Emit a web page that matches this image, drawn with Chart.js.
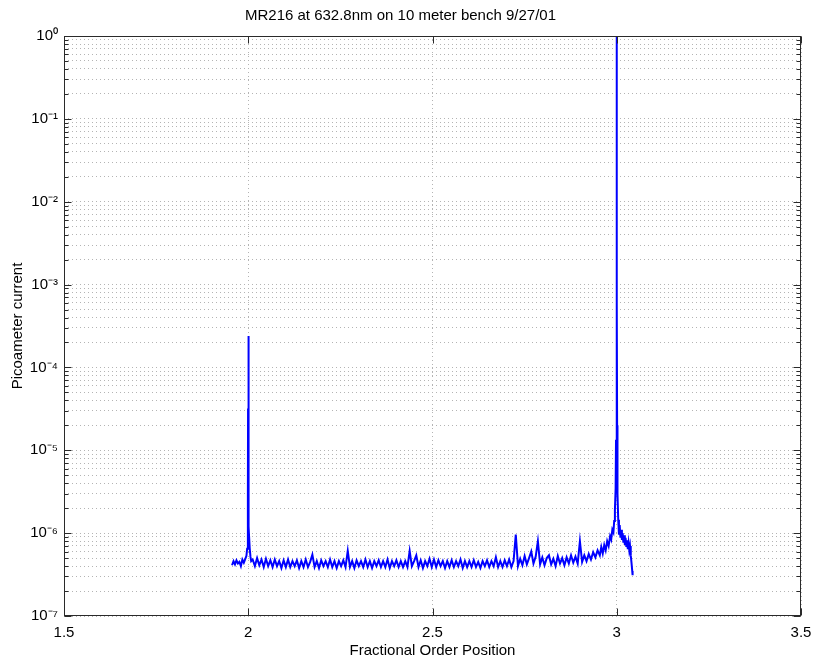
<!DOCTYPE html>
<html>
<head>
<meta charset="utf-8">
<script src="https://cdn.jsdelivr.net/npm/chart.js@4.4.0/dist/chart.umd.min.js"></script>
<style>
  html, body { margin: 0; padding: 0; background: #fff; }
  #wrap { width: 817px; height: 662px; }
</style>
</head>
<body>
<div id="wrap"><canvas id="chart" width="817" height="662"></canvas></div>
<script>
// --- Data (x = fractional order, y = picoameter current) ---
var xTicks = [1.5, 2, 2.5, 3, 3.5];
var yDecades = [1e-7, 1e-6, 1e-5, 1e-4, 1e-3, 1e-2, 1e-1, 1e0];
var yMinorSteps = [2, 3, 4, 5, 6, 7, 8, 9];

// left shoulder + order 2 peak
var xLeft = [1.956, 1.960, 1.964, 1.968, 1.972, 1.976, 1.980, 1.984, 1.988, 1.992, 1.995,
  1.997, 1.999, 1.9995, 2.000, 2.0005, 2.001, 2.002, 2.004, 2.006, 2.008];
var yLeft = [4.1e-7, 4.6e-7, 4.2e-7, 4.7e-7, 4.3e-7, 4.5e-7, 4.0e-7, 4.8e-7, 4.4e-7, 4.9e-7, 5.3e-7,
  6.5e-7, 3.0e-6, 3.2e-5, 2.4e-4, 3.0e-5, 4.0e-6, 1.2e-6, 6.5e-7, 5.2e-7, 4.6e-7];

// noise floor between the orders
var xFloor = [2.012, 2.018, 2.024, 2.030, 2.036, 2.042, 2.048, 2.054, 2.060, 2.066,
  2.072, 2.078, 2.084, 2.090, 2.096, 2.102, 2.108, 2.114, 2.120, 2.126,
  2.132, 2.138, 2.144, 2.150, 2.156, 2.162, 2.168, 2.174, 2.180, 2.186,
  2.192, 2.198, 2.204, 2.210, 2.216, 2.222, 2.228, 2.234, 2.240, 2.246,
  2.252, 2.258, 2.264, 2.270, 2.276, 2.282, 2.288, 2.294, 2.300, 2.306,
  2.312, 2.318, 2.324, 2.330, 2.336, 2.342, 2.348, 2.354, 2.360, 2.366,
  2.372, 2.378, 2.384, 2.390, 2.396, 2.402, 2.408, 2.414, 2.420, 2.426,
  2.432, 2.438, 2.444, 2.450, 2.456, 2.462, 2.468, 2.474, 2.480, 2.486,
  2.492, 2.498, 2.504, 2.510, 2.516, 2.522, 2.528, 2.534, 2.540, 2.546,
  2.552, 2.558, 2.564, 2.570, 2.576, 2.582, 2.588, 2.594, 2.600, 2.606,
  2.612, 2.618, 2.624, 2.630, 2.636, 2.642, 2.648, 2.654, 2.660, 2.666,
  2.672, 2.678, 2.684, 2.690, 2.696, 2.702, 2.708, 2.714, 2.720, 2.726,
  2.732, 2.738, 2.744, 2.750, 2.756, 2.762, 2.768, 2.774, 2.780, 2.786,
  2.792, 2.798, 2.804, 2.810, 2.816, 2.822, 2.828, 2.834, 2.840, 2.846,
  2.852, 2.858, 2.864, 2.870, 2.876, 2.882, 2.888, 2.894, 2.900, 2.906,
  2.912, 2.918, 2.924, 2.930, 2.936, 2.942, 2.948];
var yFloor = [4.8e-7, 4.0e-7, 5.0e-7, 4.1e-7, 4.8e-7, 3.9e-7, 4.9e-7, 4.0e-7, 4.7e-7, 3.9e-7,
  4.8e-7, 4.0e-7, 4.6e-7, 3.8e-7, 4.7e-7, 3.9e-7, 4.8e-7, 3.9e-7, 4.6e-7, 4.0e-7,
  4.7e-7, 3.8e-7, 4.6e-7, 3.9e-7, 4.8e-7, 3.9e-7, 4.5e-7, 5.5e-7, 3.9e-7, 4.6e-7,
  3.8e-7, 4.7e-7, 4.0e-7, 4.6e-7, 3.9e-7, 4.8e-7, 3.9e-7, 4.6e-7, 3.8e-7, 4.6e-7,
  4.0e-7, 4.7e-7, 3.9e-7, 6.1e-7, 3.9e-7, 4.6e-7, 3.8e-7, 4.7e-7, 4.0e-7, 4.6e-7,
  3.9e-7, 4.8e-7, 3.9e-7, 4.6e-7, 3.8e-7, 4.6e-7, 4.0e-7, 4.7e-7, 3.9e-7, 4.6e-7,
  3.9e-7, 4.8e-7, 3.8e-7, 4.6e-7, 4.0e-7, 4.7e-7, 3.9e-7, 4.6e-7, 3.9e-7, 4.6e-7,
  3.9e-7, 6.1e-7, 4.0e-7, 4.6e-7, 5.4e-7, 3.9e-7, 4.7e-7, 3.8e-7, 4.6e-7, 4.0e-7,
  4.9e-7, 3.9e-7, 4.8e-7, 3.9e-7, 4.7e-7, 4.0e-7, 4.6e-7, 3.8e-7, 4.6e-7, 3.9e-7,
  4.7e-7, 3.9e-7, 4.6e-7, 4.0e-7, 4.8e-7, 3.8e-7, 4.6e-7, 3.9e-7, 4.6e-7, 3.9e-7,
  4.7e-7, 3.9e-7, 4.5e-7, 3.8e-7, 4.6e-7, 4.0e-7, 4.7e-7, 3.9e-7, 4.6e-7, 4.0e-7,
  5.1e-7, 3.9e-7, 4.6e-7, 3.9e-7, 4.7e-7, 4.0e-7, 4.8e-7, 3.9e-7, 4.6e-7, 9.6e-7,
  4.0e-7, 4.9e-7, 4.1e-7, 5.3e-7, 4.2e-7, 5.0e-7, 6.0e-7, 4.3e-7, 5.2e-7, 8.0e-7,
  4.2e-7, 5.1e-7, 4.1e-7, 5.0e-7, 5.4e-7, 4.2e-7, 4.9e-7, 4.0e-7, 5.3e-7, 4.3e-7,
  5.0e-7, 4.1e-7, 5.1e-7, 4.3e-7, 5.4e-7, 4.4e-7, 5.2e-7, 4.3e-7, 8.0e-7, 4.5e-7,
  5.4e-7, 4.6e-7, 5.6e-7, 4.8e-7, 5.9e-7, 5.1e-7, 6.2e-7];

// rise into order 3 (goes off the top of the axes) and the right tail
var xRight = [2.954, 2.958, 2.962, 2.966, 2.970, 2.974, 2.978, 2.982, 2.985, 2.988,
  2.991, 2.993, 2.995, 2.997, 2.998, 2.9995, 3.000,
  3.0005, 3.001, 3.002, 3.004, 3.006, 3.008, 3.010, 3.012, 3.014, 3.016,
  3.018, 3.020, 3.022, 3.024, 3.026, 3.028, 3.030, 3.032, 3.034, 3.036,
  3.038, 3.040, 3.042, 3.043];
var yRight = [5.4e-7, 6.8e-7, 5.7e-7, 7.2e-7, 6.2e-7, 8.0e-7, 7.0e-7, 9.2e-7, 8.4e-7, 1.1e-6,
  1.02e-6, 1.4e-6, 1.9e-6, 3.5e-6, 1.3e-5, 5.0e-4, 2.0,
  6.0e-4, 2.0e-5, 3.0e-6, 1.45e-6, 9.6e-7, 1.25e-6, 8.8e-7, 1.1e-6, 8.3e-7, 1.0e-6,
  7.7e-7, 9.4e-7, 7.2e-7, 8.8e-7, 6.8e-7, 8.2e-7, 6.4e-7, 7.6e-7, 6.2e-7, 7.0e-7,
  5.4e-7, 4.4e-7, 3.5e-7, 3.1e-7];

var titleText = "MR216 at 632.8nm on 10 meter bench 9/27/01";
var xTitle = "Fractional Order Position";
var yTitle = "Picoameter current";

// --- helpers ---
function zipPoints(xs, ys) {
  var out = [];
  for (var i = 0; i < xs.length; i++) out.push({ x: xs[i], y: ys[i] });
  return out;
}

var points = zipPoints(xLeft, yLeft)
  .concat(zipPoints(xFloor, yFloor))
  .concat(zipPoints(xRight, yRight));

var yTickValues = [];
yDecades.forEach(function (d, i) {
  yTickValues.push(d);
  if (i < yDecades.length - 1) {
    yMinorSteps.forEach(function (m) { yTickValues.push(m * d); });
  }
});

function isDecade(v) {
  var l = Math.log10(v);
  return Math.abs(l - Math.round(l)) < 1e-9;
}

var SUP = { "-": "\u207B", "0": "\u2070", "1": "\u00B9", "2": "\u00B2", "3": "\u00B3",
  "4": "\u2074", "5": "\u2075", "6": "\u2076", "7": "\u2077", "8": "\u2078", "9": "\u2079" };
function powLabel(v) {
  var e = String(Math.round(Math.log10(v)));
  return "10" + e.split("").map(function (c) { return SUP[c]; }).join("");
}

// MATLAB-style box with inward tick marks
var boxPlugin = {
  id: "box",
  afterDraw: function (chart) {
    var ctx = chart.ctx, a = chart.chartArea;
    var xs = chart.scales.x, ys = chart.scales.y;
    var L = Math.round(a.left) + 0.5, R = Math.round(a.right) - 0.5;
    var T = Math.round(a.top) + 0.5, B = Math.round(a.bottom) - 0.5;
    ctx.save();
    ctx.strokeStyle = "#2a2a2a";
    ctx.lineWidth = 1;
    ctx.strokeRect(L, T, R - L, B - T);
    ctx.beginPath();
    yTickValues.forEach(function (v) {
      var py = Math.round(ys.getPixelForValue(v)) + 0.5;
      var len = isDecade(v) ? 7 : 4;
      ctx.moveTo(L, py); ctx.lineTo(L + len, py);
      ctx.moveTo(R, py); ctx.lineTo(R - len, py);
    });
    xTicks.forEach(function (v) {
      var px = Math.round(xs.getPixelForValue(v)) + 0.5;
      ctx.moveTo(px, B); ctx.lineTo(px, B - 7);
      ctx.moveTo(px, T); ctx.lineTo(px, T + 7);
    });
    ctx.stroke();
    ctx.restore();
  }
};

Chart.defaults.font.family = "'Liberation Sans', Arial, sans-serif";
Chart.defaults.color = "#000";

new Chart(document.getElementById("chart"), {
  type: "line",
  data: {
    datasets: [{
      data: points,
      borderColor: "#0000ff",
      borderWidth: 2,
      pointRadius: 0,
      fill: false,
      tension: 0
    }]
  },
  options: {
    responsive: false,
    animation: false,
    layout: { padding: { left: 0, right: 16, top: 0, bottom: 0 } },
    plugins: {
      legend: { display: false },
      tooltip: { enabled: false },
      title: {
        display: true,
        text: titleText,
        color: "#000",
        font: { size: 15, weight: "normal" },
        padding: { top: 7, bottom: 11 }
      }
    },
    scales: {
      x: {
        type: "linear",
        min: 1.5,
        max: 3.5,
        afterBuildTicks: function (scale) {
          scale.ticks = xTicks.map(function (v) { return { value: v }; });
        },
        afterFit: function (scale) {
          scale.height = 46;
          scale.paddingLeft = 0;
          scale.paddingRight = 0;
        },
        ticks: {
          autoSkip: false,
          maxRotation: 0,
          padding: 8,
          color: "#000",
          font: { size: 15 },
          callback: function (v) { return String(v); }
        },
        grid: { color: "#b4b4b4", lineWidth: 1, drawTicks: false },
        border: { display: false, dash: [1, 3] },
        title: {
          display: true,
          text: xTitle,
          color: "#000",
          font: { size: 15 },
          padding: { top: 0, bottom: 2 }
        }
      },
      y: {
        type: "logarithmic",
        min: 1e-7,
        max: 1,
        afterBuildTicks: function (scale) {
          scale.ticks = yTickValues.map(function (v) { return { value: v }; });
        },
        afterFit: function (scale) {
          scale.width = 64;
          scale.paddingTop = 0;
          scale.paddingBottom = 0;
        },
        ticks: {
          autoSkip: false,
          padding: 6,
          color: "#000",
          font: { size: 15 },
          callback: function (v) { return isDecade(v) ? powLabel(v) : ""; }
        },
        grid: { color: "#b4b4b4", lineWidth: 1, drawTicks: false },
        border: { display: false, dash: [1, 3] },
        title: {
          display: true,
          text: yTitle,
          color: "#000",
          font: { size: 15 },
          padding: { top: 9, bottom: 0 }
        }
      }
    }
  },
  plugins: [boxPlugin]
});
</script>
</body>
</html>
